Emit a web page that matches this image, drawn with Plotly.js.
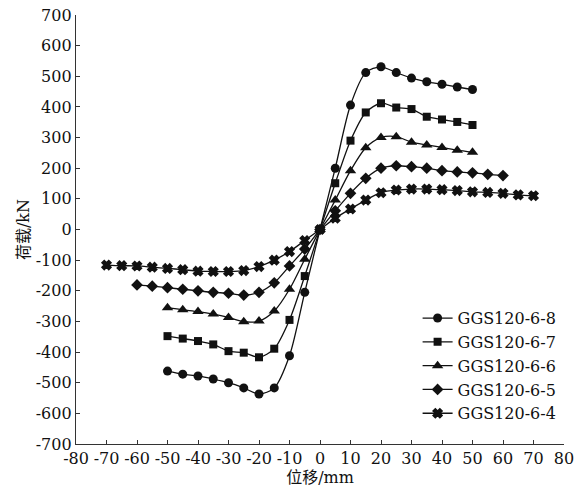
<!DOCTYPE html>
<html><head><meta charset="utf-8">
<script src="https://cdn.plot.ly/plotly-3.0.1.min.js"></script>
<style>html,body{margin:0;padding:0;background:#fff}#chart{width:583px;height:490px}</style>
</head><body><div id="chart"></div>
<script>
const names = ["GGS120-6-8","GGS120-6-7","GGS120-6-6","GGS120-6-5","GGS120-6-4"];
const symbols = ["circle","square","triangle-up","diamond","x"];

const x68 = [-50,-45,-40,-35,-30,-25,-20,-15,-10,-5,0,5,10,15,20,25,30,35,40,45,50];
const y68 = [-462,-472,-478,-488,-500,-517,-537,-517,-412,-205,0,200,406,512,531,512,494,482,474,465,457];

const x67 = [-50,-45,-40,-35,-30,-25,-20,-15,-10,-5,0,5,10,15,20,25,30,35,40,45,50];
const y67 = [-348,-356,-364,-375,-397,-402,-417,-389,-295,-152,0,151,290,382,412,398,393,368,359,351,341];

const x66 = [-50,-45,-40,-35,-30,-25,-20,-15,-10,-5,0,5,10,15,20,25,30,35,40,45,50];
const y66 = [-255,-262,-268,-276,-287,-301,-299,-266,-195,-97,0,96,192,267,300,303,285,276,268,259,252];

const x65 = [-60,-55,-50,-45,-40,-35,-30,-25,-20,-15,-10,-5,0,5,10,15,20,25,30,35,40,45,50,55,60];
const y65 = [-181,-185,-190,-195,-200,-205,-208,-214,-205,-174,-119,-64,0,61,118,167,200,208,205,200,192,188,185,180,176];

const x64 = [-70,-65,-60,-55,-50,-45,-40,-35,-30,-25,-20,-15,-10,-5,0,5,10,15,20,25,30,35,40,45,50,55,60,65,70];
const y64 = [-116,-118,-119,-123,-127,-131,-136,-137,-137,-134,-121,-100,-72,-36,0,37,67,96,120,129,132,132,130,127,123,121,118,113,110];

const xTicks = [-80,-70,-60,-50,-40,-30,-20,-10,0,10,20,30,40,50,60,70,80];
const xTickText = ["-80","-70","-60","-50","-40","-30","-20","-10","0","10","20","30","40","50","60","70","80"];
const yTicks = [-700,-600,-500,-400,-300,-200,-100,0,100,200,300,400,500,600,700];
const yTickText = ["-700","-600","-500","-400","-300","-200","-100","0","100","200","300","400","500","600","700"];

const xs = [x68,x67,x66,x65,x64];
const ys = [y68,y67,y66,y65,y64];
const sizes = [9,8,10,9,8];

const traces = names.map((n,i)=>({
  x: xs[i], y: ys[i], name: n, type: "scatter", mode: "lines+markers",
  line: {color: "#111", width: 1.3, shape: "spline", smoothing: 0.8},
  marker: {symbol: symbols[i], size: sizes[i], color: "#111", line: {color:"#111", width: i===4?1.5:0}}
}));

const fam = "'DejaVu Serif', 'Noto Sans CJK SC', serif";
const font = {family: fam, size: 16, color: "#111"};

const layout = {
  width: 583, height: 490,
  margin: {l: 76, r: 19, t: 15, b: 46},
  paper_bgcolor: "#fff", plot_bgcolor: "#fff",
  font: font,
  showlegend: true,
  legend: {x: 0.70, y: 0.333, xanchor: "left", yanchor: "top", bgcolor: "rgba(0,0,0,0)",
    font: {family: fam, size: 16, color: "#111"}, tracegroupgap: 0, itemwidth: 30},
  xaxis: {
    range: [-80, 80], tickvals: xTicks, ticktext: xTickText,
    ticks: "inside", ticklen: 4, tickwidth: 1, tickcolor: "#333",
    showline: true, linecolor: "#333", linewidth: 1.2, showgrid: false, zeroline: false,
    tickfont: {family: fam, size: 16, color: "#111"},
    title: {text: "位移/mm", font: {family: fam, size: 16, color: "#111"}, standoff: 2}
  },
  yaxis: {
    range: [-700, 700], tickvals: yTicks, ticktext: yTickText,
    ticks: "inside", ticklen: 4, tickwidth: 1, tickcolor: "#333",
    showline: true, linecolor: "#333", linewidth: 1.2, showgrid: false, zeroline: false,
    tickfont: {family: fam, size: 16, color: "#111"},
    title: {text: "荷载/kN", font: {family: fam, size: 16, color: "#111"}, standoff: 2}
  }
};

Plotly.newPlot("chart", traces, layout, {displayModeBar: false, staticPlot: true});
</script>
</body></html>
